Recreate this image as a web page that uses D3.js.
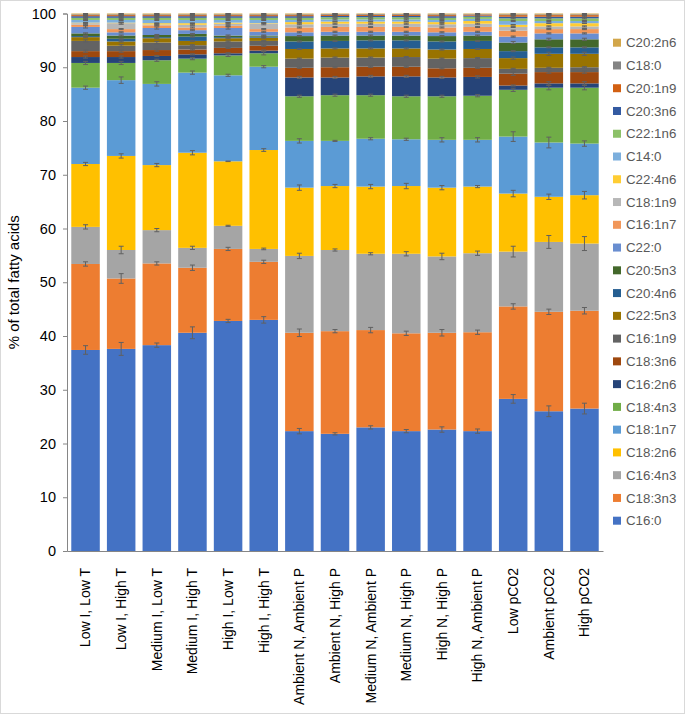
<!DOCTYPE html>
<html>
<head>
<meta charset="utf-8">
<script src="https://cdn.jsdelivr.net/npm/d3@7"></script>
<style>
  html, body { margin: 0; padding: 0; background: #fff; }
  svg { display: block; font-family: "Liberation Sans", Arial, sans-serif; }
</style>
</head>
<body>
<svg id="chart" width="685" height="714"></svg>
<script>
// ---------------- DATA ----------------
const categories = ["Low I, Low T", "Low I, High T", "Medium I, Low T", "Medium I, High T",
  "High I, Low T", "High I, High T", "Ambient N, Ambient P", "Ambient N, High P",
  "Medium N, Ambient P", "Medium N, High P", "High N, High P", "High N, Ambient P",
  "Low pCO2", "Ambient pCO2", "High pCO2"];

const yTicks = [0, 10, 20, 30, 40, 50, 60, 70, 80, 90, 100];

// series (bottom to top of stack)
const seriesNames = ["C16:0", "C18:3n3", "C16:4n3", "C18:2n6", "C18:1n7", "C18:4n3", "C16:2n6",
  "C18:3n6", "C16:1n9", "C22:5n3", "C20:4n6", "C20:5n3", "C22:0", "C16:1n7", "C18:1n9",
  "C22:4n6", "C14:0", "C22:1n6", "C20:3n6", "C20:1n9", "C18:0", "C20:2n6"];

const C16_0   = [37.4, 37.6, 38.3, 40.6, 42.8, 43.0, 22.3, 21.8, 23.0, 22.3, 22.6, 22.3, 28.3, 26.0, 26.5];
const C18_3n3 = [16.0, 13.1, 15.2, 12.1, 13.4, 10.8, 18.3, 19.1, 18.1, 18.2, 18.0, 18.4, 17.2, 18.5, 18.2];
const C16_4n3 = [6.9, 5.3, 6.2, 3.7, 4.3, 2.4, 14.3, 15.1, 14.2, 14.8, 14.2, 14.7, 10.2, 13.0, 12.5];
const C18_2n6 = [11.7, 17.5, 12.1, 17.7, 12.0, 18.4, 12.7, 11.9, 12.5, 12.6, 12.8, 12.4, 10.8, 8.4, 9.0];
const C18_1n7 = [14.2, 14.1, 15.1, 14.9, 16.0, 15.5, 8.7, 8.4, 8.9, 8.7, 8.9, 8.7, 10.6, 10.1, 9.6];
const C18_4n3 = [4.6, 3.2, 4.4, 2.6, 3.7, 2.5, 8.3, 8.5, 8.1, 8.0, 8.1, 8.2, 8.7, 10.2, 10.4];
const C16_2n6 = [1.1, 1.1, 0.8, 0.8, 0.4, 0.5, 3.5, 3.3, 3.5, 3.7, 3.5, 3.5, 0.8, 0.8, 0.8];
const C18_3n6 = [1.1, 1.1, 1.1, 0.9, 1.0, 0.9, 1.8, 1.9, 1.8, 1.8, 1.7, 1.7, 2.2, 2.1, 2.1];
const C16_1n9 = [1.9, 1.0, 1.4, 0.8, 1.2, 0.9, 1.7, 1.8, 1.7, 1.8, 1.8, 1.8, 0.9, 0.8, 0.9];
const C22_5n3 = [0.7, 0.8, 0.8, 0.8, 0.6, 0.6, 1.8, 1.7, 1.7, 1.6, 1.7, 1.7, 2.0, 2.6, 2.5];
const C20_4n6 = [0.2, 0.5, 0.2, 0.8, 0.2, 0.2, 1.4, 1.4, 1.5, 1.5, 1.5, 1.5, 1.3, 1.2, 1.2];
const C20_5n3 = [0.5, 0.6, 0.4, 0.5, 0.3, 0.2, 1.0, 1.0, 0.9, 0.9, 1.0, 1.0, 1.6, 1.5, 1.5];
const C22_0   = [1.2, 0.6, 1.3, 0.7, 1.4, 0.7, 0.7, 0.7, 0.7, 0.7, 0.7, 0.7, 1.1, 1.1, 1.1];
const C16_1n7 = [0.4, 0.6, 0.5, 0.5, 0.4, 0.5, 0.9, 0.9, 0.9, 0.9, 0.9, 0.9, 1.1, 0.8, 0.8];
const C18_1n9 = [0.3, 1.1, 0.15, 0.5, 0.4, 1.0, 0.6, 0.6, 0.6, 0.6, 0.6, 0.6, 0.7, 0.5, 0.5];
const C22_4n6 = [0.1, 0.1, 0.25, 0.3, 0.2, 0.1, 0.4, 0.4, 0.4, 0.4, 0.4, 0.5, 0.4, 0.6, 0.6];
const C14_0   = [0.5, 0.5, 0.6, 0.6, 0.5, 0.6, 0.4, 0.4, 0.4, 0.4, 0.4, 0.4, 0.7, 0.4, 0.4];
const C22_1n6 = [0.4, 0.4, 0.4, 0.4, 0.4, 0.4, 0.4, 0.4, 0.4, 0.4, 0.4, 0.4, 0.5, 0.5, 0.5];
const C20_3n6 = [0.3, 0.3, 0.3, 0.3, 0.3, 0.3, 0.3, 0.25, 0.25, 0.25, 0.3, 0.2, 0.3, 0.3, 0.3];
const C20_1n9 = [0.2, 0.2, 0.2, 0.2, 0.2, 0.2, 0.2, 0.2, 0.2, 0.2, 0.2, 0.2, 0.3, 0.3, 0.3];
const C18_0   = [0.15, 0.15, 0.15, 0.15, 0.15, 0.15, 0.15, 0.15, 0.15, 0.15, 0.15, 0.1, 0.15, 0.15, 0.15];
const C20_2n6 = [0.15, 0.15, 0.15, 0.15, 0.15, 0.15, 0.15, 0.1, 0.1, 0.1, 0.15, 0.1, 0.15, 0.15, 0.15];

// error (SD) per series
const C16_0_err   = [0.8, 1.2, 0.4, 1.1, 0.3, 0.6, 0.5, 0.2, 0.3, 0.3, 0.5, 0.4, 0.8, 1.0, 1.0];
const C18_3n3_err = [0.4, 0.9, 0.3, 0.5, 0.3, 0.3, 0.7, 0.3, 0.5, 0.4, 0.6, 0.4, 0.5, 0.5, 0.6];
const C16_4n3_err = [0.4, 0.7, 0.3, 0.3, 0.1, 0.15, 0.5, 0.2, 0.2, 0.4, 0.6, 0.4, 1.0, 1.2, 1.3];
const C18_2n6_err = [0.3, 0.4, 0.3, 0.4, 0.05, 0.25, 0.5, 0.3, 0.4, 0.5, 0.4, 0.2, 0.6, 0.5, 0.7];
const C18_1n7_err = [0.3, 0.6, 0.4, 0.3, 0.2, 0.2, 0.4, 0.1, 0.2, 0.2, 0.4, 0.4, 0.9, 1.0, 0.5];
const C18_4n3_err = [0.3, 0.3, 0.2, 0.2, 0.2, 0.3, 0.2, 0.2, 0.2, 0.2, 0.2, 0.2, 0.3, 0.4, 0.4];
const C16_2n6_err = [0.2, 0.2, 0.1, 0.1, 0.1, 0.1, 0.2, 0.2, 0.2, 0.2, 0.2, 0.2, 0.1, 0.3, 0.3];
const C18_3n6_err = [0.2, 0.2, 0.2, 0.1, 0.1, 0.1, 0.1, 0.1, 0.1, 0.1, 0.1, 0.1, 0.3, 0.2, 0.2];
const C16_1n9_err = [0.2, 0.2, 0.2, 0.1, 0.1, 0.1, 0.1, 0.1, 0.1, 0.1, 0.1, 0.1, 0.1, 0.1, 0.1];
const C22_5n3_err = [0.1, 0.1, 0.1, 0.1, 0.1, 0.1, 0.1, 0.1, 0.1, 0.1, 0.1, 0.1, 0.2, 0.3, 0.3];
const C20_4n6_err = [0.1, 0.1, 0.1, 0.1, 0.1, 0.1, 0.1, 0.1, 0.1, 0.1, 0.1, 0.1, 0.1, 0.1, 0.1];
const C20_5n3_err = [0.1, 0.1, 0.1, 0.1, 0.1, 0.1, 0.1, 0.1, 0.1, 0.1, 0.1, 0.1, 0.2, 0.2, 0.2];
const C22_0_err   = [0.2, 0.1, 0.2, 0.1, 0.2, 0.1, 0.1, 0.1, 0.1, 0.1, 0.1, 0.1, 0.1, 0.1, 0.1];
const C16_1n7_err = [0.1, 0.1, 0.1, 0.1, 0.1, 0.1, 0.1, 0.1, 0.1, 0.1, 0.1, 0.1, 0.1, 0.1, 0.1];
const C18_1n9_err = [0.1, 0.2, 0.1, 0.1, 0.1, 0.2, 0.1, 0.1, 0.1, 0.1, 0.1, 0.1, 0.1, 0.1, 0.1];
const C22_4n6_err = [0.05, 0.05, 0.05, 0.05, 0.05, 0.05, 0.05, 0.05, 0.05, 0.05, 0.05, 0.05, 0.05, 0.05, 0.05];
const C14_0_err   = [0.1, 0.1, 0.1, 0.1, 0.1, 0.1, 0.1, 0.1, 0.1, 0.1, 0.1, 0.1, 0.1, 0.1, 0.1];
const C22_1n6_err = [0.1, 0.1, 0.1, 0.1, 0.1, 0.1, 0.1, 0.1, 0.1, 0.1, 0.1, 0.1, 0.1, 0.1, 0.1];
const C20_3n6_err = [0.1, 0.1, 0.1, 0.1, 0.1, 0.1, 0.1, 0.1, 0.1, 0.1, 0.1, 0.1, 0.1, 0.1, 0.1];
const C20_1n9_err = [0.05, 0.05, 0.05, 0.05, 0.05, 0.05, 0.05, 0.05, 0.05, 0.05, 0.05, 0.05, 0.05, 0.05, 0.05];
const C18_0_err   = [0.05, 0.05, 0.05, 0.05, 0.05, 0.05, 0.05, 0.05, 0.05, 0.05, 0.05, 0.05, 0.05, 0.05, 0.05];
const C20_2n6_err = [0.05, 0.05, 0.05, 0.05, 0.05, 0.05, 0.05, 0.05, 0.05, 0.05, 0.05, 0.05, 0.05, 0.05, 0.05];

const seriesValues = [C16_0, C18_3n3, C16_4n3, C18_2n6, C18_1n7, C18_4n3, C16_2n6, C18_3n6, C16_1n9,
  C22_5n3, C20_4n6, C20_5n3, C22_0, C16_1n7, C18_1n9, C22_4n6, C14_0, C22_1n6, C20_3n6, C20_1n9, C18_0, C20_2n6];
const seriesErrors = [C16_0_err, C18_3n3_err, C16_4n3_err, C18_2n6_err, C18_1n7_err, C18_4n3_err, C16_2n6_err,
  C18_3n6_err, C16_1n9_err, C22_5n3_err, C20_4n6_err, C20_5n3_err, C22_0_err, C16_1n7_err, C18_1n9_err,
  C22_4n6_err, C14_0_err, C22_1n6_err, C20_3n6_err, C20_1n9_err, C18_0_err, C20_2n6_err];

const seriesColors = ["#4472C4", "#ED7D31", "#A5A5A5", "#FFC000", "#5B9BD5", "#70AD47", "#264478",
  "#9E480E", "#636363", "#997300", "#255E91", "#43682B", "#698ED0", "#F1975A", "#B7B7B7",
  "#FFCD33", "#7CAFDD", "#8CC168", "#335AA1", "#D26012", "#848484", "#D2A64A"];

// ---------------- CHART ----------------
const svg = d3.select("#chart");
const W = 685, H = 714;
const margin = { left: 67, right: 82, top: 13.5, bottom: 163 };
const FONT = "'Liberation Sans', Arial, sans-serif";

svg.append("rect").attr("x", 0.5).attr("y", 0.5).attr("width", W - 1).attr("height", H - 1)
  .attr("fill", "#fff").attr("stroke", "#d9d9d9");

const x = d3.scaleBand().domain(categories)
  .range([margin.left, W - margin.right]).paddingInner(0.2).paddingOuter(0.12);
const y = d3.scaleLinear().domain([0, 100]).range([H - margin.bottom, margin.top]);

const table = categories.map((c, i) => {
  const row = { cat: c };
  seriesNames.forEach((s, j) => { row[s] = seriesValues[j][i]; });
  return row;
});
const stacked = d3.stack().keys(seriesNames)(table);

const gBars = svg.append("g");
stacked.forEach((layer, j) => {
  gBars.append("g").attr("fill", seriesColors[j])
    .selectAll("rect").data(layer).join("rect")
    .attr("x", d => x(d.data.cat))
    .attr("width", x.bandwidth())
    .attr("y", d => y(d[1]))
    .attr("height", d => Math.max(0, y(d[0]) - y(d[1])));
});

// error bars
const gErr = svg.append("g").attr("stroke", "#606060").attr("stroke-width", 1).attr("fill", "none");
stacked.forEach((layer, j) => {
  layer.forEach((d, i) => {
    const e = seriesErrors[j][i];
    const cx = x(d.data.cat) + x.bandwidth() / 2;
    const top = Math.min(100, d[1] + e), bot = d[1] - e;
    gErr.append("line").attr("x1", cx).attr("x2", cx).attr("y1", y(top)).attr("y2", y(bot));
    gErr.append("line").attr("x1", cx - 2.5).attr("x2", cx + 2.5).attr("y1", y(top)).attr("y2", y(top));
    gErr.append("line").attr("x1", cx - 2.5).attr("x2", cx + 2.5).attr("y1", y(bot)).attr("y2", y(bot));
  });
});

// y axis
const yAxis = svg.append("g").attr("transform", `translate(${margin.left},0)`)
  .call(d3.axisLeft(y).tickValues(yTicks).tickSize(4).tickPadding(7));
yAxis.select(".domain").attr("stroke", "#868686");
yAxis.selectAll(".tick line").attr("stroke", "#868686");
yAxis.selectAll(".tick text").attr("font-size", 14.5).attr("fill", "#000")
  .attr("font-family", FONT);

// x axis
const xAxis = svg.append("g").attr("transform", `translate(0,${H - margin.bottom})`)
  .call(d3.axisBottom(x).tickSize(0).tickPadding(0));
xAxis.select(".domain").attr("stroke", "#868686");
xAxis.selectAll(".tick text")
  .attr("font-size", 14).attr("fill", "#000")
  .attr("font-family", FONT)
  .attr("text-anchor", "end")
  .attr("transform", "translate(0,17) rotate(-90)")
  .attr("dy", "0.35em").attr("x", 0).attr("y", 0);

// y title
svg.append("text")
  .attr("transform", `translate(19,${(y(0) + y(100)) / 2}) rotate(-90)`)
  .attr("text-anchor", "middle").attr("font-size", 15).attr("fill", "#000")
  .attr("font-family", FONT)
  .text("% of total fatty acids");

// legend (top: last series)
const legendOrder = seriesNames.map((s, j) => j).reverse();
const lg = svg.append("g");
const ly = d3.scalePoint().domain(legendOrder).range([42.7, 520.7]);
legendOrder.forEach(j => {
  const gy = ly(j);
  lg.append("rect").attr("x", 613).attr("y", gy - 4).attr("width", 8).attr("height", 8)
    .attr("fill", seriesColors[j]);
  lg.append("text").attr("x", 626).attr("y", gy).attr("dy", "0.35em")
    .attr("font-size", 13.3).attr("fill", "#595959").attr("font-family", FONT).text(seriesNames[j]);
});
</script>
</body>
</html>
